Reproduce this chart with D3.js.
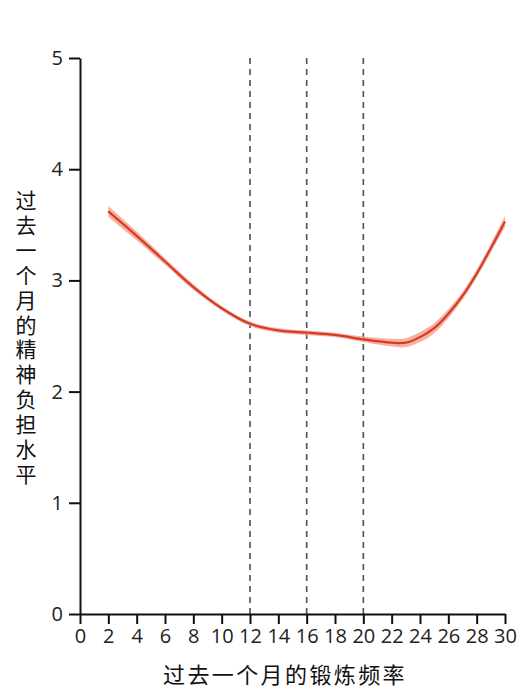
<!DOCTYPE html>
<html>
<head>
<meta charset="utf-8">
<script src="https://cdn.jsdelivr.net/npm/d3@7"></script>
<style>
  body { margin: 0; background: #fff; }
  svg { display: block; }
</style>
</head>
<body>
<svg class="chart"></svg>
<script>
// exercise days per month (x) and mental-health burden (y)
var days = [2, 4, 6, 8, 10, 12, 14, 16, 18, 20, 22, 23, 24, 25, 26, 27, 28, 29, 30];
var burden = [3.62, 3.40, 3.17, 2.94, 2.75, 2.61, 2.55, 2.53, 2.51, 2.47, 2.44, 2.44, 2.49, 2.57, 2.70, 2.86, 3.06, 3.29, 3.53];
var ciHalf = [0.05, 0.04, 0.03, 0.025, 0.02, 0.02, 0.02, 0.02, 0.02, 0.025, 0.035, 0.04, 0.045, 0.045, 0.04, 0.035, 0.035, 0.04, 0.05];
var xTicks = [0, 2, 4, 6, 8, 10, 12, 14, 16, 18, 20, 22, 24, 26, 28, 30];
var yTicks = [0, 1, 2, 3, 4, 5];
var cutoffs = [12, 16, 20];
var xTitle = "过去一个月的锻炼频率";
var yTitle = "过去一个月的精神负担水平";

var width = 532;
var height = 695;

var svg = d3.select(".chart")
  .attr("width", width)
  .attr("height", height);

var x = d3.scaleLinear().domain([0, 30]).range([80, 505]);
var y = d3.scaleLinear().domain([0, 5]).range([614, 58]);

var data = days.map(function(d, i){
  return {x: d, y: burden[i], lo: burden[i] - ciHalf[i], hi: burden[i] + ciHalf[i]};
});

// dashed reference lines
svg.selectAll("line.cut")
   .data(cutoffs)
   .enter()
   .append("line")
   .attr("class", "cut")
   .attr("x1", function(d){return x(d);})
   .attr("x2", function(d){return x(d);})
   .attr("y1", y(5))
   .attr("y2", y(0))
   .attr("stroke", "#4a5c5c")
   .attr("stroke-width", 1.7)
   .attr("stroke-dasharray", "6,5");

// confidence band
var curve = d3.curveCatmullRom.alpha(0.5);

var area = d3.area()
  .x(function(d){return x(d.x);})
  .y0(function(d){return y(d.lo);})
  .y1(function(d){return y(d.hi);})
  .curve(curve);

svg.append("path")
   .datum(data)
   .attr("d", area)
   .attr("fill", "#f4a58c")
   .attr("opacity", 0.85);

var line = d3.line()
  .x(function(d){return x(d.x);})
  .y(function(d){return y(d.y);})
  .curve(curve);

svg.append("path")
   .datum(data)
   .attr("d", line)
   .attr("fill", "none")
   .attr("stroke", "#d8392a")
   .attr("stroke-width", 2.2);

// axes
var xAxis = svg.append("g")
  .attr("transform", "translate(0," + y(0) + ")")
  .call(d3.axisBottom(x).tickValues(xTicks).tickSize(10).tickSizeOuter(0).tickPadding(5));

var yAxis = svg.append("g")
  .attr("transform", "translate(" + x(0) + ",0)")
  .call(d3.axisLeft(y).tickValues(yTicks).tickFormat(d3.format("d")).tickSize(11).tickSizeOuter(0).tickPadding(6));

[xAxis, yAxis].forEach(function(g){
  g.select(".domain").attr("stroke", "#111").attr("stroke-width", 2);
  g.selectAll(".tick line").attr("stroke", "#111").attr("stroke-width", 2);
  g.selectAll(".tick text")
   .attr("fill", "#222")
   .style("font-family", "'Open Sans', sans-serif")
   .style("font-size", "20px");
});

// titles
svg.append("text")
   .text(xTitle)
   .attr("x", 285)
   .attr("y", 683)
   .attr("text-anchor", "middle")
   .style("font-family", "'Noto Sans CJK SC', sans-serif")
   .style("font-size", "22px")
   .style("letter-spacing", "2.4px")
   .attr("fill", "#111");

// vertical title, one text element in vertical writing mode
svg.append("text")
   .text(yTitle)
   .attr("x", 26)
   .attr("y", 339)
   .attr("text-anchor", "middle")
   .style("writing-mode", "vertical-rl")
   .style("font-family", "'Noto Sans CJK SC', sans-serif")
   .style("font-size", "21px")
   .style("letter-spacing", "3.9px")
   .attr("fill", "#111");
</script>
</body>
</html>
